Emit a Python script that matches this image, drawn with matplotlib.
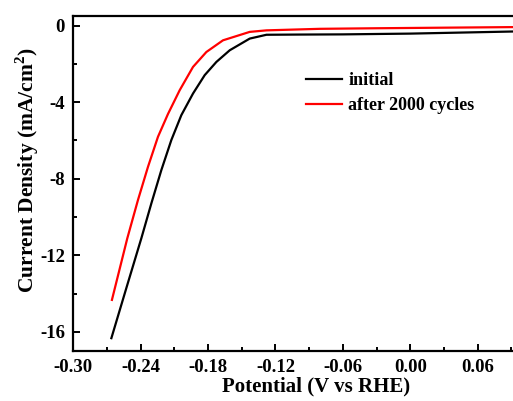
import matplotlib as mpl
import matplotlib.pyplot as plt
from matplotlib.ticker import MultipleLocator, FormatStrFormatter

mpl.rcParams.update({
    "font.family": ["Liberation Serif", "DejaVu Serif"],
    "font.weight": "bold",
    "axes.labelweight": "bold",
    "mathtext.fontset": "custom",
    "mathtext.rm": "Liberation Serif:bold",
    "mathtext.bf": "Liberation Serif:bold",
})

# potential (V vs RHE) and current density (mA/cm2)
initial_v = [-0.2661, -0.2527, -0.2394, -0.2305, -0.2216, -0.2127, -0.2038,
             -0.1934, -0.1830, -0.1726, -0.1607, -0.1429, -0.1280, -0.1000,
             -0.0600, 0.0000, 0.0500, 0.0915]
initial_j = [-16.33, -13.70, -11.11, -9.29, -7.55, -5.98, -4.68,
             -3.55, -2.59, -1.90, -1.29, -0.68, -0.48, -0.47,
             -0.46, -0.42, -0.36, -0.31]

cycled_v = [-0.2656, -0.2519, -0.2424, -0.2335, -0.2246, -0.2157, -0.2053,
            -0.1934, -0.1815, -0.1667, -0.1429, -0.1280, -0.0805, -0.0300,
            0.0300, 0.0915]
cycled_j = [-14.33, -11.11, -9.11, -7.38, -5.81, -4.62, -3.38,
            -2.16, -1.38, -0.77, -0.33, -0.25, -0.17, -0.14,
            -0.11, -0.08]

labels = ["initial", "after 2000 cycles"]
colors = ["#000000", "#ff0000"]

fig = plt.figure(figsize=(5.13, 4.01), dpi=100)
# axes run a little past the right edge: the source picture is cropped there
ax = fig.add_axes([73.3 / 513, 1 - 351 / 401, 449.2 / 513, 335 / 401])

ax.plot(initial_v, initial_j, color=colors[0], lw=1.6, label=labels[0],
        solid_joinstyle="round")
ax.plot(cycled_v, cycled_j, color=colors[1], lw=1.6, label=labels[1],
        solid_joinstyle="round")

ax.set_xlim(-0.30, 0.10)
ax.set_ylim(-17, 0.5)
ax.xaxis.set_major_locator(MultipleLocator(0.06))
ax.xaxis.set_minor_locator(MultipleLocator(0.03))
ax.yaxis.set_major_locator(MultipleLocator(4))
ax.yaxis.set_minor_locator(MultipleLocator(2))
ax.xaxis.set_major_formatter(FormatStrFormatter("%.2f"))
ax.yaxis.set_major_formatter(FormatStrFormatter("%d"))

ax.tick_params(which="both", direction="in", top=False, right=False,
               labelsize=13.5, width=1.4)
ax.tick_params(which="major", length=5, pad=6)
ax.tick_params(which="minor", length=3)
for s in ax.spines.values():
    s.set_linewidth(1.6)

ax.set_xlabel("Potential (V vs RHE)", fontsize=15)
ax.set_ylabel("Current Density (mA/cm$^2$)", fontsize=15.5)
ax.xaxis.set_label_coords(0.54, -0.075)
ax.yaxis.set_label_coords(-0.072, 0.54)

ax.legend(loc="upper left", bbox_to_anchor=(0.518, 0.833), frameon=False,
          fontsize=13, handlelength=2.0, handletextpad=0.35,
          borderaxespad=0, borderpad=0, labelspacing=0.45)

fig.savefig("out.png", dpi=100)
